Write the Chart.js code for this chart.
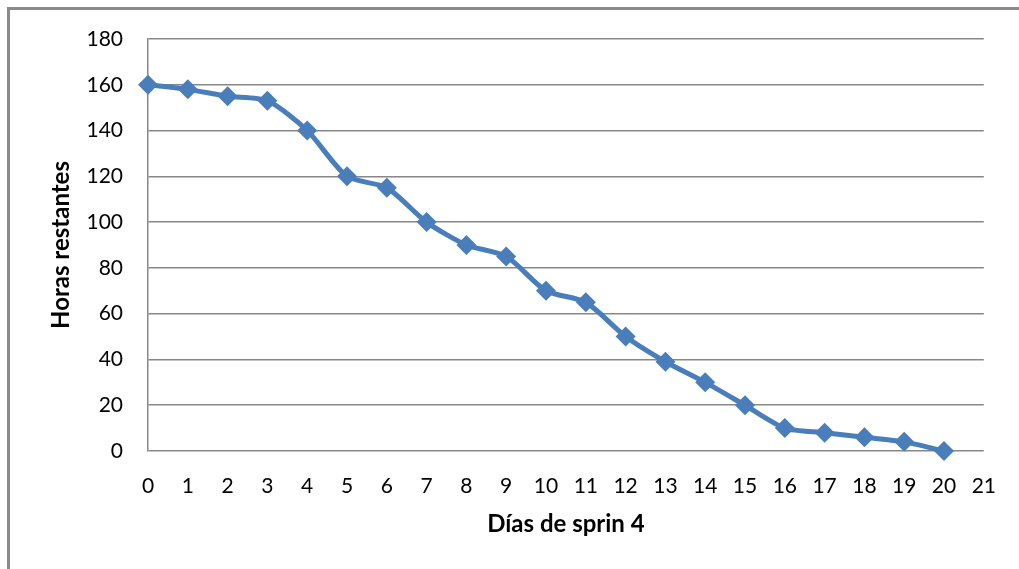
<!DOCTYPE html>
<html>
<head>
<meta charset="utf-8">
<script src="https://cdn.jsdelivr.net/npm/chart.js@4/dist/chart.umd.min.js"></script>
<style>
  html, body { margin: 0; padding: 0; background: #fff; }
  #wrap { width: 1019px; height: 569px; position: relative; }
</style>
</head>
<body>
<div id="wrap"><canvas id="burndown"></canvas></div>
<script>
// Horas restantes por día del sprint 4
const dias = [0, 1, 2, 3, 4, 5, 6, 7, 8, 9, 10, 11, 12, 13, 14, 15, 16, 17, 18, 19, 20];
const horasRestantes = [160, 158, 155, 153, 140, 120, 115, 100, 90, 85, 70, 65, 50, 39, 30, 20, 10, 8, 6, 4, 0];
const yTicks = [0, 20, 40, 60, 80, 100, 120, 140, 160, 180];
const xTicks = [0, 1, 2, 3, 4, 5, 6, 7, 8, 9, 10, 11, 12, 13, 14, 15, 16, 17, 18, 19, 20, 21];

const azul = '#4a7ebb';
const gris = '#878787';
const fuente = 'Lato, "Open Sans", sans-serif';

// marco gris (solo borde superior e izquierdo)
const marco = {
    id: 'marco',
    beforeDraw(chart) {
        const c = chart.ctx;
        c.save();
        c.fillStyle = '#8a8a8a';
        c.fillRect(7, 7, chart.width - 7, 3);
        c.fillRect(7, 7, 3, chart.height - 7);
        c.restore();
    }
};

new Chart(document.getElementById('burndown'), {
    type: 'line',
    data: {
        datasets: [{
            data: dias.map((d, i) => ({ x: d, y: horasRestantes[i] })),
            borderColor: azul,
            backgroundColor: azul,
            borderWidth: 5,
            tension: 0.25,
            pointStyle: 'rectRot',
            pointRadius: 10,
            pointBorderWidth: 0,
            pointBackgroundColor: azul,
            fill: false,
            clip: false
        }]
    },
    options: {
        responsive: true,
        maintainAspectRatio: false,
        animation: false,
        layout: { padding: { left: 10, top: 39, right: 32, bottom: 0 } },
        plugins: {
            legend: { display: false },
            tooltip: { enabled: false }
        },
        scales: {
            x: {
                type: 'linear',
                min: 0,
                max: 21,
                afterBuildTicks: s => { s.ticks = xTicks.map(v => ({ value: v })); },
                afterFit: s => { s.height = 118; },
                grid: { display: false, drawTicks: false },
                border: { display: false },
                ticks: { color: '#000', padding: 23, autoSkip: false, maxRotation: 0, font: { family: fuente, size: 21 } },
                title: {
                    display: true,
                    text: 'Días de sprin 4',
                    color: '#000',
                    font: { family: fuente, size: 24, weight: 'bold' },
                    padding: { top: 0, bottom: 30 }
                }
            },
            y: {
                min: 0,
                max: 180,
                afterBuildTicks: s => { s.ticks = yTicks.map(v => ({ value: v })); },
                afterFit: s => { s.width = 138; },
                grid: { color: gris, lineWidth: 1.5, drawTicks: false },
                border: { display: true, color: gris, width: 1.5 },
                ticks: { color: '#000', padding: 25, font: { family: fuente, size: 21 } },
                title: {
                    display: true,
                    text: 'Horas restantes',
                    color: '#000',
                    font: { family: fuente, size: 24, weight: 'bold' },
                    padding: { top: 37, bottom: 0 }
                }
            }
        }
    },
    plugins: [marco]
});
</script>
</body>
</html>
